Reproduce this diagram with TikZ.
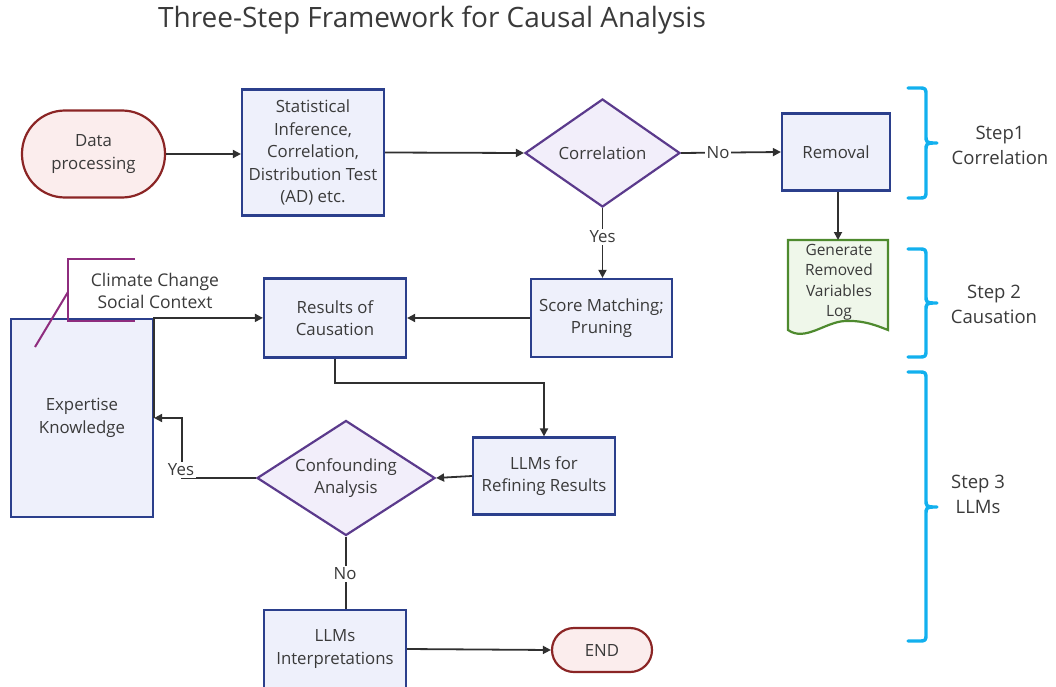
\documentclass[tikz,border=0pt]{standalone}
\usepackage{fontspec}
\setmainfont{Open Sans}
\usetikzlibrary{shapes.geometric,arrows.meta}
\definecolor{txt}{HTML}{3A3A3A}
\definecolor{boxfill}{HTML}{EEF0FB}
\definecolor{boxline}{HTML}{2B3F8C}
\definecolor{dfill}{HTML}{F2EEFA}
\definecolor{dline}{HTML}{5B3A8C}
\definecolor{tfill}{HTML}{FBEDED}
\definecolor{tline}{HTML}{8B2525}
\definecolor{docfill}{HTML}{EFF7EA}
\definecolor{docline}{HTML}{4E8A2E}
\definecolor{callout}{HTML}{8E2C7E}
\definecolor{bracec}{HTML}{12B0EE}
\definecolor{conn}{HTML}{303030}
\newcommand{\stepbrace}[3]{%
  \draw[bracestyle] (908,#1) -- (918,#1) .. controls (926,#1) .. (926,{#1+8}) -- (926,{#3-8})
    .. controls (926,#3) .. (937,#3) .. controls (926,#3) .. (926,{#3+8}) -- (926,{#2-8})
    .. controls (926,#2) .. (918,#2) -- (908,#2);}
\begin{document}
\begin{tikzpicture}[x=1pt,y=-1pt,
  every node/.style={text=txt,font=\fontsize{16.8}{22.5}\selectfont,align=center},
  procbox/.style={draw=boxline,fill=boxfill,line width=2.2pt,rectangle,inner sep=2pt},
  decision/.style={draw=dline,fill=dfill,line width=2.2pt,diamond,inner sep=0pt},
  terminal/.style={draw=tline,fill=tfill,line width=2.2pt,rectangle},
  arr/.style={draw=conn,line width=1.8pt,-{Triangle[length=8pt,width=8pt]}},
  plain/.style={draw=conn,line width=1.8pt},
  lbl/.style={fill=white,inner sep=1.5pt},
  steplbl/.style={font=\fontsize{18.5}{25}\selectfont},
  bracestyle/.style={draw=bracec,line width=3.4pt,line cap=round,line join=round}]
\useasboundingbox (0,0) rectangle (1056,687);

\node[font=\fontsize{28}{32}\selectfont] (title) at (432,20) {Three-Step Framework for Causal Analysis};

\node[terminal,rounded corners=43pt,minimum width=143pt,minimum height=87pt] (data) at (93.5,154) {Data\\processing};
\node[procbox,minimum width=142pt,minimum height=126pt] (stat) at (313,152.5) {Statistical\\Inference,\\Correlation,\\Distribution Test\\(AD) etc.};
\node[decision,aspect=1.435,minimum width=155pt,minimum height=108pt] (corr) at (602.5,153) {Correlation};
\node[procbox,minimum width=108pt,minimum height=77pt] (rem) at (836,152) {Removal};

% document shape
\path[draw=docline,fill=docfill,line width=2.2pt] (788,240) -- (888,240) -- (888,330)
  .. controls (880,327) and (865,320) .. (845,321)
  .. controls (825,322) and (805,342) .. (788,330) -- cycle;
\node[font=\fontsize{15.5}{20.5}\selectfont] (doc) at (839,282) {Generate\\Removed\\Variables\\Log};
\coordinate (doctop) at (838,240);

\node[procbox,minimum width=141pt,minimum height=78pt] (score) at (601.5,318) {Score Matching;\\Pruning};
\node[procbox,minimum width=142pt,minimum height=79pt] (res) at (335,318) {Results of\\Causation};
\node[procbox,minimum width=142pt,minimum height=198pt] (exp) at (82,418) {Expertise\\Knowledge};
\node[procbox,minimum width=142pt,minimum height=77pt] (llmr) at (544,476) {LLMs for\\Refining Results};
\node[decision,aspect=1.55,minimum width=178pt,minimum height=115pt] (conf) at (346,478) {Confounding\\Analysis};
\node[procbox,minimum width=142pt,minimum height=78pt] (llmi) at (335,649) {LLMs\\Interpretations};
\node[terminal,rounded corners=22pt,minimum width=100pt,minimum height=44pt] (end) at (602,650) {END};

% callout
\draw[callout,line width=2pt] (135,259) -- (68,259) -- (68,321) -- (135,321);
\draw[callout,line width=2pt] (68,292) -- (35,347);
\node[font=\fontsize{17.5}{22.5}\selectfont] (clim) at (155,291) {Climate Change\\Social Context};

% connectors
\draw[arr] (data.east) -- (stat.west |- data.east);
\draw[arr] (stat.east) -- (corr.west);
\draw[arr] (corr.east) -- (rem.west);
\node[lbl] (no1) at (718,153) {No};
\draw[arr] (rem.south -| doctop) -- (doctop);
\draw[arr] (corr.south) -- (score.north -| corr.south);
\node[lbl] (yes1) at (602.5,237) {Yes};
\draw[arr] (score.west) -- (res.east);
\draw[arr] (exp.east) -- (exp.north east) -- (res.west |- exp.north east);
\draw[arr] (res.south) -- (335,383) -- (544,383) -- (llmr.north);
\draw[arr] (llmr.west) -- (conf.east);
\draw[arr] (conf.west) -- (182,478) -- (182,418) -- (exp.east);
\node[lbl] (yes2) at (181,470) {Yes};
\draw[plain] (conf.south) -- (llmi.north -| conf.south);
\node[lbl] (no2) at (345,574) {No};
\draw[arr] (llmi.east) -- (end.west);

% braces
\stepbrace{88}{198}{143}
\stepbrace{249}{357}{303}
\stepbrace{372}{641}{507}
\node[steplbl] (s1) at (1000,145) {Step1\\Correlation};
\node[steplbl] (s2) at (994,304) {Step 2\\Causation};
\node[steplbl] (s3) at (978,494) {Step 3\\LLMs};
\end{tikzpicture}
\end{document}
